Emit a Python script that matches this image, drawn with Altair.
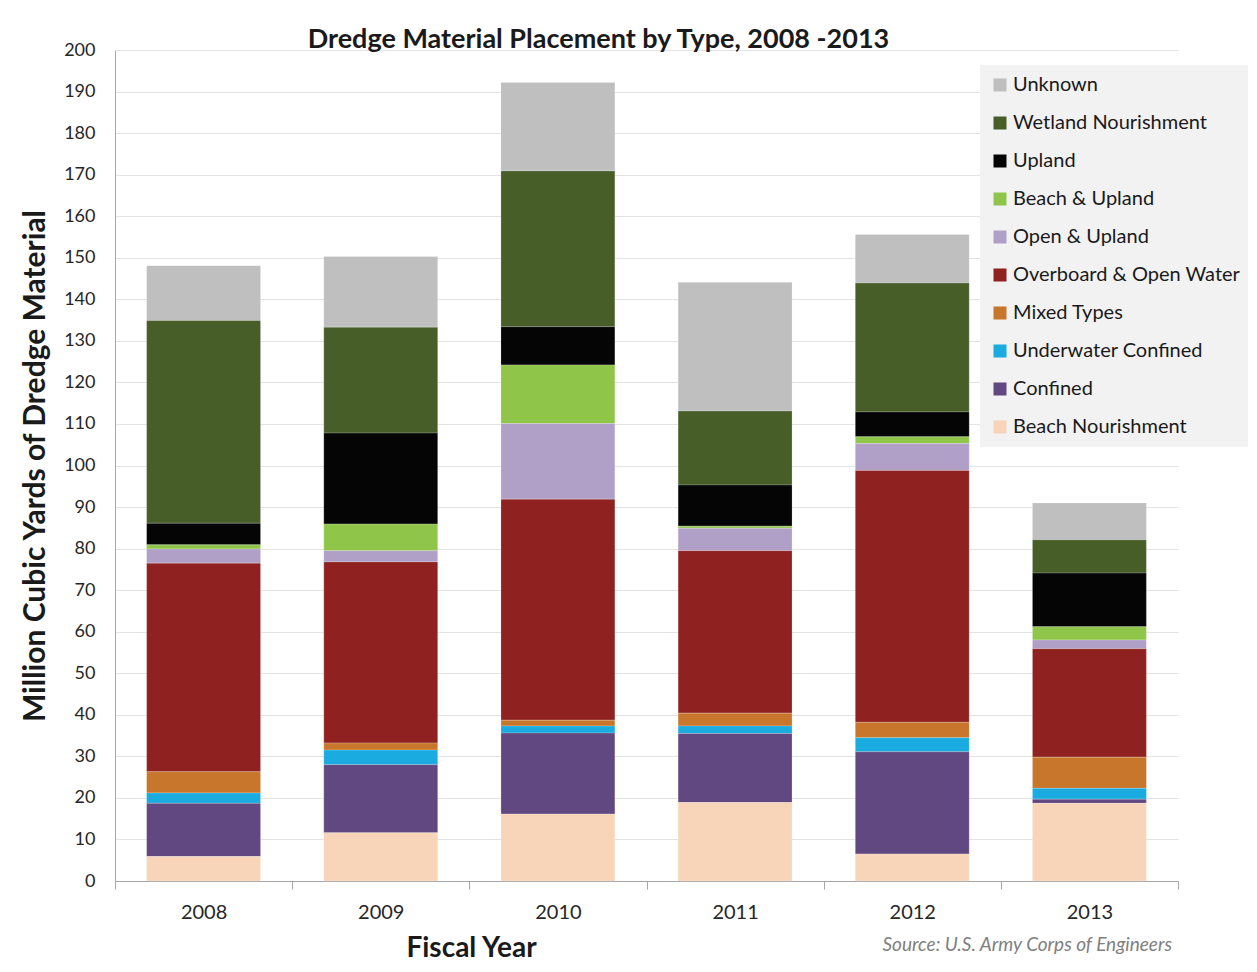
import altair as alt
import pandas as pd

years = ["2008", "2009", "2010", "2011", "2012", "2013"]

types = [
    "Unknown",
    "Wetland Nourishment",
    "Upland",
    "Beach & Upland",
    "Open & Upland",
    "Overboard & Open Water",
    "Mixed Types",
    "Underwater Confined",
    "Confined",
    "Beach Nourishment",
]

colors = [
    "#bfbfbf",
    "#475e29",
    "#050505",
    "#8fc64a",
    "#b0a0c7",
    "#8f2220",
    "#c8762b",
    "#1aabe0",
    "#624880",
    "#f8d5b8",
]

unknown = [13.2, 17.0, 21.3, 31.0, 11.7, 8.9]
wetland = [48.8, 25.5, 37.5, 17.8, 31.0, 8.0]
upland = [5.2, 21.9, 9.2, 9.9, 6.0, 12.9]
beach_upland = [1.0, 6.4, 14.1, 0.5, 1.6, 3.2]
open_upland = [3.4, 2.7, 18.2, 5.4, 6.5, 2.1]
overboard = [50.2, 43.6, 53.2, 39.1, 60.6, 26.1]
mixed = [5.1, 1.7, 1.4, 3.1, 3.7, 7.5]
underwater = [2.5, 3.5, 1.7, 1.8, 3.4, 2.6]
confined = [12.8, 16.4, 19.5, 16.6, 24.6, 1.0]
beach = [5.9, 11.6, 16.1, 18.9, 6.5, 18.7]

series = [unknown, wetland, upland, beach_upland, open_upland,
          overboard, mixed, underwater, confined, beach]

rows = []
for i, (name, vals) in enumerate(zip(types, series)):
    for y, v in zip(years, vals):
        rows.append({"Year": y, "Type": name, "Value": v, "stack": len(types) - 1 - i})
df = pd.DataFrame(rows)

FONT = "Lato"

bars = alt.Chart(df).mark_bar(
    width=alt.RelativeBandSize(0.643), stroke="#ffffff", strokeWidth=0.4, strokeOpacity=0.5
).encode(
    x=alt.X(
        "Year:N",
        title="Fiscal Year",
        scale=alt.Scale(paddingInner=0, paddingOuter=0),
        axis=alt.Axis(
            labelAngle=0,
            labelFontSize=20,
            labelFont=FONT,
            labelColor="#262626",
            labelPadding=13,
            tickBand="extent",
            ticks=True,
            tickSize=8,
            tickColor="#a6a6a6",
            domainColor="#a6a6a6",
            grid=False,
            titleFont=FONT,
            titleFontSize=28,
            titleFontWeight="bold",
            titleColor="#1a1a1a",
            titleX=356,
            titleY=67,
            titleBaseline="middle",
        ),
    ),
    y=alt.Y(
        "Value:Q",
        stack="zero",
        title="Million Cubic Yards of Dredge Material",
        scale=alt.Scale(domain=[0, 200], nice=False),
        axis=alt.Axis(
            values=list(range(0, 201, 10)),
            labelFontSize=18,
            labelFont=FONT,
            labelColor="#262626",
            labelPadding=20,
            ticks=False,
            domainColor="#a6a6a6",
            gridColor="#e3e3e3",
            gridWidth=1.2,
            titleFont=FONT,
            titleFontSize=30,
            titleFontWeight="bold",
            titleColor="#1a1a1a",
            titleX=-80,
            titleBaseline="middle",
        ),
    ),
    color=alt.Color(
        "Type:N",
        scale=alt.Scale(domain=types, range=colors),
        legend=alt.Legend(
            title=None,
            orient="none",
            legendX=865,
            legendY=15,
            fillColor="#f2f2f2",
            padding=10,
            labelFont=FONT,
            labelFontSize=20,
            labelColor="#1a1a1a",
            labelLimit=400,
            labelOffset=3,
            symbolType="square",
            symbolSize=169,
            symbolStrokeWidth=0,
            rowPadding=18,
        ),
    ),
    order=alt.Order("stack:Q", sort="ascending"),
)

source = alt.Chart(pd.DataFrame({"t": ["Source: U.S. Army Corps of Engineers"]})).mark_text(
    align="right", baseline="middle", font=FONT, fontSize=19, fontStyle="italic", color="#808080"
).encode(text="t:N", x=alt.value(1057), y=alt.value(895))

chart = alt.layer(bars, source).properties(
    width=1063,
    height=831,
    autosize=alt.AutoSizeParams(type="none"),
    padding={"left": 107, "top": 42, "right": 70, "bottom": 80},
    title=alt.TitleParams(
        "Dredge Material Placement by Type, 2008 -2013",
        font=FONT,
        fontSize=27,
        fontWeight="bold",
        color="#1a1a1a",
        anchor="middle",
        dx=-48,
        dy=17,
        offset=4,
    ),
).configure_view(stroke=None)

chart.save("out.html", embed_options={"renderer": "svg", "actions": False})
